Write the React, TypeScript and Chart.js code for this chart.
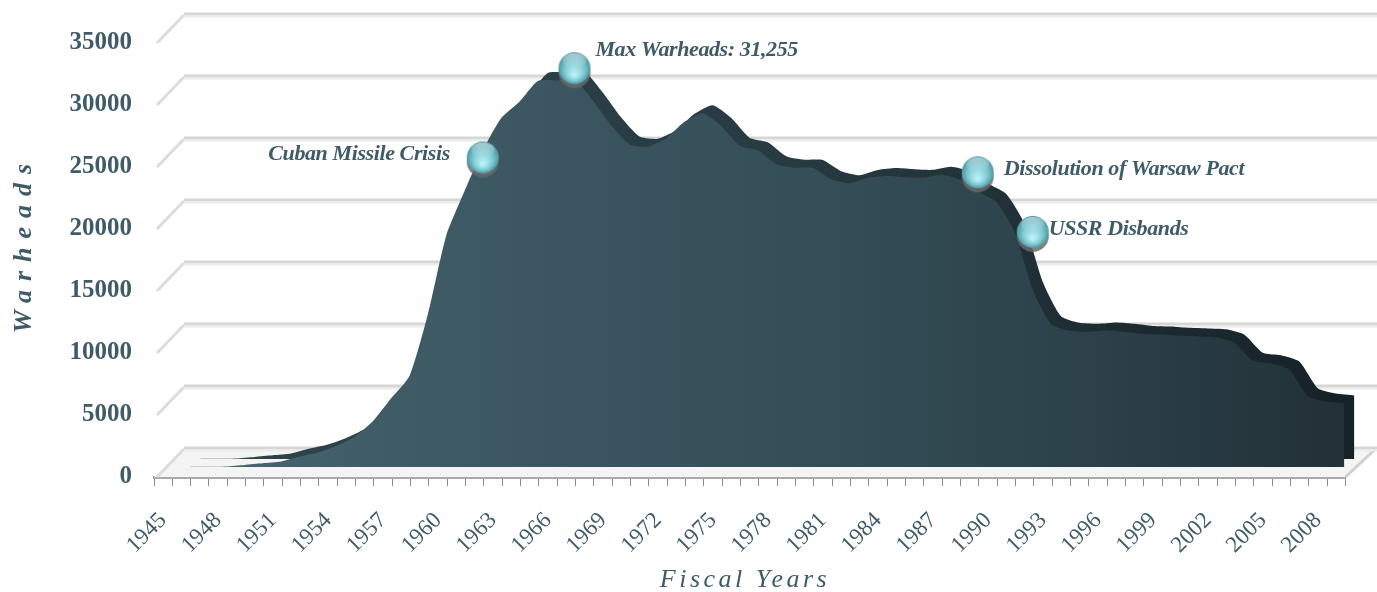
import { useEffect, useRef } from 'react';
import { Chart, registerables } from 'chart.js';

// ---------- data ----------
const years = [
  '1945', '1946', '1947', '1948', '1949', '1950', '1951', '1952', '1953', '1954',
  '1955', '1956', '1957', '1958', '1959', '1960', '1961', '1962', '1963', '1964',
  '1965', '1966', '1967', '1968', '1969', '1970', '1971', '1972', '1973', '1974',
  '1975', '1976', '1977', '1978', '1979', '1980', '1981', '1982', '1983', '1984',
  '1985', '1986', '1987', '1988', '1989', '1990', '1991', '1992', '1993', '1994',
  '1995', '1996', '1997', '1998', '1999', '2000', '2001', '2002', '2003', '2004',
  '2005', '2006', '2007', '2008', '2009',
];
const warheads = [
  2, 9, 13, 50, 170, 299, 438, 841, 1169, 1703,
  2422, 3692, 5543, 7345, 12298, 18638, 22229, 25540, 28133, 29463,
  31139, 31175, 31255, 29561, 27552, 26008, 25830, 26516, 27835, 28537,
  27519, 25914, 25542, 24418, 24138, 24104, 23208, 22886, 23305, 23459,
  23368, 23317, 23575, 23205, 22217, 21392, 19008, 14300, 11511, 10979,
  10904, 11011, 10903, 10732, 10685, 10577, 10526, 10457, 10027, 8570,
  8360, 7853, 5709, 5273, 5113,
];
const yTickValues = [0, 5000, 10000, 15000, 20000, 25000, 30000, 35000];
const labelEvery = 3;
const eventYears = ['1962', '1967', '1989', '1992'];
const eventValues = [24800, 32000, 23600, 18800];
const eventLabels = ['Cuban Missile Crisis', 'Max Warheads: 31,255', 'Dissolution of Warsaw Pact', 'USSR Disbands'];
const yTitle = 'Warheads';
const xTitle = 'Fiscal Years';

// ---------- styles ----------
const TEXT = '#3e5b67';
const SERIF = '"Liberation Serif", "Times New Roman", serif';
const FACE_SHIFT = [8, -10];
const TOP_SHIFT = [18, -18];
const WALL_SHIFT = [30, -28];
const labelPlacement = [
  { align: 'right', dx: -33, dy: -3 },
  { align: 'left', dx: 21, dy: -18 },
  { align: 'left', dx: 26, dy: -3 },
  { align: 'left', dx: 16, dy: -3 },
];

// translate whole dataset drawing (fill included) – registered before Filler
const depthPlugin = {
  id: 'depthShift',
  beforeDatasetDraw(chart: any, args: any) {
    const s = chart.data.datasets[args.index].shift;
    if (!s) return;
    chart.ctx.save();
    chart.ctx.translate(s[0], s[1]);
  },
  afterDatasetDraw(chart: any, args: any) {
    const s = chart.data.datasets[args.index].shift;
    if (!s) return;
    chart.ctx.restore();
  },
};
Chart.register(depthPlugin as any);
Chart.register(...registerables);

function makeBall(r: number) {
  const c = document.createElement('canvas');
  const size = r * 2 + 6;
  c.width = size;
  c.height = size + 4;
  const g = c.getContext('2d')!;
  const cx = size / 2;
  const cy = size / 2;
  g.fillStyle = 'rgba(105,105,105,0.85)';
  g.beginPath();
  g.arc(cx, cy + 4, r, 0, Math.PI * 2);
  g.fill();
  const grad = g.createRadialGradient(cx, cy + r * 0.4, r * 0.1, cx, cy, r);
  grad.addColorStop(0, '#b8f0f5');
  grad.addColorStop(0.55, '#80cbd4');
  grad.addColorStop(1, '#4f98a3');
  g.fillStyle = grad;
  g.beginPath();
  g.arc(cx, cy, r, 0, Math.PI * 2);
  g.fill();
  const hl = g.createLinearGradient(0, cy - r, 0, cy);
  hl.addColorStop(0, 'rgba(255,255,255,0.5)');
  hl.addColorStop(1, 'rgba(255,255,255,0)');
  g.fillStyle = hl;
  g.beginPath();
  g.ellipse(cx, cy - r * 0.45, r * 0.72, r * 0.48, 0, 0, Math.PI * 2);
  g.fill();
  return c;
}

function faceFill(c: any) {
  const ch = c.chart;
  const a = ch.chartArea;
  if (!a) return '#3a5560';
  const g = ch.ctx.createLinearGradient(a.left, 0, a.right, 0);
  g.addColorStop(0, '#486974');
  g.addColorStop(0.2, '#3f5b65');
  g.addColorStop(0.5, '#36505a');
  g.addColorStop(0.75, '#2d434b');
  g.addColorStop(1, '#223037');
  return g;
}
function topFill(c: any) {
  const ch = c.chart;
  const a = ch.chartArea;
  if (!a) return '#2a3d44';
  const g = ch.ctx.createLinearGradient(a.left, 0, a.right, 0);
  g.addColorStop(0, '#2f444c');
  g.addColorStop(0.5, '#283b42');
  g.addColorStop(1, '#162126');
  return g;
}

const scenePlugin = {
  id: 'scene',
  beforeDraw(chart: any) {
    chart.ctx.letterSpacing = '0px';
  },
  beforeDatasetsDraw(chart: any) {
    const { ctx, chartArea: a, scales } = chart;
    const y = scales.y;
    const [wx, wy] = WALL_SHIFT;
    ctx.save();
    // floor
    ctx.beginPath();
    ctx.moveTo(a.left, a.bottom);
    ctx.lineTo(a.right, a.bottom);
    ctx.lineTo(a.right + wx, a.bottom + wy);
    ctx.lineTo(a.left + wx, a.bottom + wy);
    ctx.closePath();
    ctx.fillStyle = '#f4f4f4';
    ctx.fill();
    ctx.strokeStyle = '#cfcfcf';
    ctx.lineWidth = 3;
    ctx.beginPath();
    ctx.moveTo(a.right, a.bottom);
    ctx.lineTo(a.right + wx, a.bottom + wy);
    ctx.stroke();
    // back wall grid lines
    y.ticks.forEach((t: any) => {
      const py = y.getPixelForValue(t.value);
      ctx.strokeStyle = '#dcdcdc';
      ctx.lineWidth = 3;
      ctx.beginPath();
      ctx.moveTo(a.left + 3, py);
      ctx.lineTo(a.left + wx, py + wy);
      ctx.stroke();
      ctx.lineWidth = 3;
      ctx.strokeStyle = '#d6d6d6';
      ctx.beginPath();
      ctx.moveTo(a.left + wx, py + wy - 1);
      ctx.lineTo(chart.width, py + wy - 1);
      ctx.stroke();
      ctx.lineWidth = 2;
      ctx.strokeStyle = '#ececec';
      ctx.beginPath();
      ctx.moveTo(a.left + wx, py + wy + 1.5);
      ctx.lineTo(chart.width, py + wy + 1.5);
      ctx.stroke();
    });
    ctx.restore();
  },
  afterDatasetsDraw(chart: any) {
    chart.ctx.letterSpacing = '2px';
  },
  afterDraw(chart: any) {
    const ctx = chart.ctx;
    ctx.save();
    ctx.fillStyle = TEXT;
    ctx.textBaseline = 'middle';
    // annotations
    const meta = chart.getDatasetMeta(0);
    const s = chart.data.datasets[0].shift || [0, 0];
    ctx.letterSpacing = '-0.4px';
    ctx.font = `italic bold 22px ${SERIF}`;
    meta.data.forEach((pt: any, i: number) => {
      const p = labelPlacement[i];
      const bx = pt.x + s[0];
      const by = pt.y + s[1] - 2;
      ctx.textAlign = p.align;
      ctx.fillText(eventLabels[i], bx + p.dx, by + p.dy);
    });
    // axis titles
    ctx.textAlign = 'center';
    ctx.font = `italic bold 26px ${SERIF}`;
    ctx.letterSpacing = '9px';
    ctx.save();
    ctx.translate(24, 248);
    ctx.rotate(-Math.PI / 2);
    ctx.fillText(yTitle, 4, 0);
    ctx.restore();
    ctx.font = `italic 26px ${SERIF}`;
    ctx.letterSpacing = '3.5px';
    ctx.fillText(xTitle, 745, 580);
    ctx.restore();
    ctx.letterSpacing = '0px';
  },
};

export default function App() {
  const ref = useRef<HTMLCanvasElement>(null);
  useEffect(() => {
    document.body.style.margin = '0';
    const ball = makeBall(16);
    const chart = new Chart(ref.current!, {
      type: 'line',
      data: {
        labels: years,
        datasets: [
          {
            label: 'Events',
            data: eventYears.map((yr, i) => ({ x: yr, y: eventValues[i] })),
            showLine: false,
            fill: false,
            pointStyle: ball as any,
            pointRadius: 17,
            clip: false,
            shift: FACE_SHIFT,
          } as any,
          {
            label: 'Warheads',
            data: warheads,
            fill: 'origin',
            backgroundColor: faceFill,
            borderWidth: 0,
            pointRadius: 0,
            tension: 0.2,
            clip: false,
            shift: FACE_SHIFT,
          } as any,
          {
            label: 'Depth',
            data: warheads,
            fill: 'origin',
            backgroundColor: topFill,
            borderWidth: 0,
            pointRadius: 0,
            tension: 0.2,
            clip: false,
            shift: TOP_SHIFT,
          } as any,
        ],
      },
      options: {
        animation: false,
        responsive: false,
        devicePixelRatio: 1,
        layout: { padding: { left: 0, right: 19, top: 43, bottom: 0 } },
        plugins: { legend: { display: false }, tooltip: { enabled: false } },
        events: [],
        scales: {
          x: {
            type: 'category',
            offset: true,
            z: 1,
            grid: {
              offset: true,
              drawOnChartArea: false,
              drawTicks: true,
              tickLength: 9,
              color: '#8c8c8c',
              lineWidth: 1,
            },
            border: { display: true, color: '#a9a9a9', width: 3 },
            ticks: {
              autoSkip: false,
              minRotation: 45,
              maxRotation: 45,
              padding: 21,
              color: TEXT,
              font: { family: SERIF, size: 23 },
              callback: function (this: any, value: any, index: number) {
                return index % labelEvery === 0 ? this.getLabelForValue(value) : '';
              },
            },
            afterFit: (s: any) => {
              s.height = 115;
            },
          },
          y: {
            min: 0,
            max: 35000,
            grid: { display: false, drawTicks: false },
            border: { display: false },
            afterBuildTicks: (s: any) => {
              s.ticks = yTickValues.map((v) => ({ value: v }));
            },
            ticks: {
              padding: 22,
              color: TEXT,
              font: { family: SERIF, size: 25, weight: 'bold' },
              callback: (v: any) => String(v),
            },
            afterFit: (s: any) => {
              s.width = 154;
            },
          },
        },
      } as any,
      plugins: [scenePlugin as any],
    });
    return () => chart.destroy();
  }, []);
  return (
    <div style={{ width: 1377, height: 592 }}>
      <canvas ref={ref} width={1377} height={592} style={{ display: 'block' }} />
    </div>
  );
}
